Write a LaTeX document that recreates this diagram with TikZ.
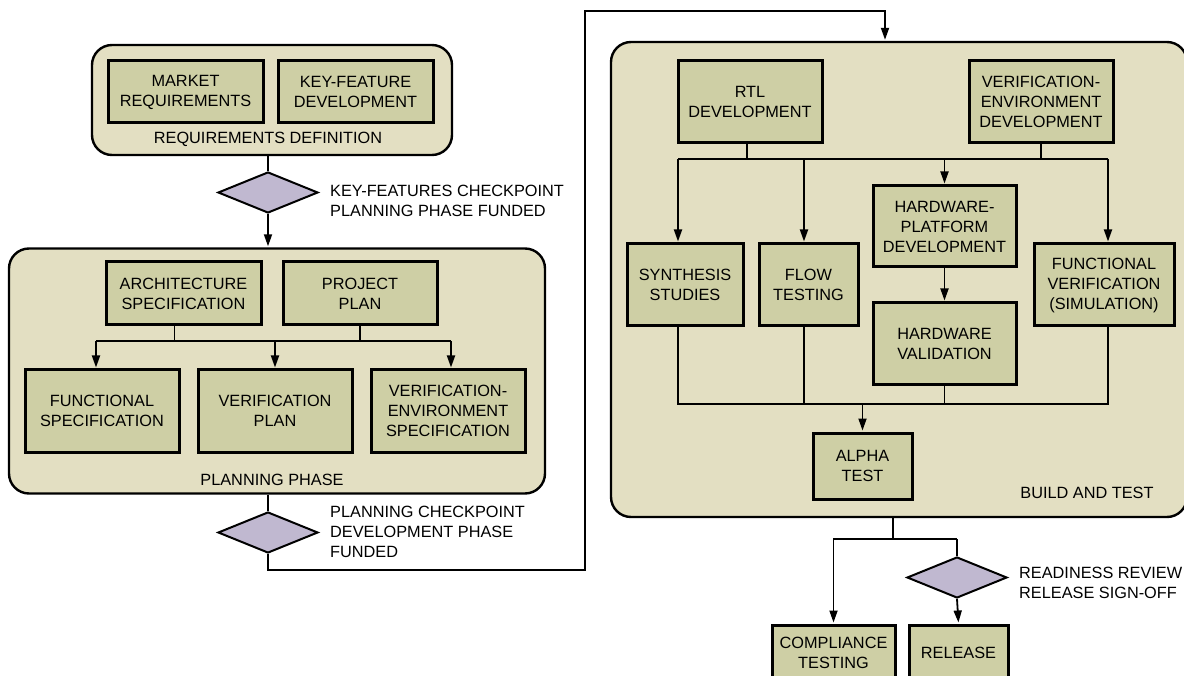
\documentclass[tikz,border=0pt]{standalone}
\usepackage{fontspec}
\setmainfont{Liberation Sans}
\usetikzlibrary{shapes.geometric,arrows.meta,calc}
\definecolor{contfill}{RGB}{227,223,194}
\definecolor{boxfill}{RGB}{206,207,165}
\definecolor{diafill}{RGB}{192,184,208}
\begin{document}
\begin{tikzpicture}[x=1pt,y=-1pt,
  every node/.style={font=\fontsize{16.3}{20}\selectfont, inner sep=0pt},
  container/.style={draw, line width=2.4pt, fill=contfill, rounded corners=20pt},
  box/.style={draw, line width=3pt, fill=boxfill, align=center},
  dia/.style={draw, diamond, line width=2pt, fill=diafill, minimum width=100pt, minimum height=41pt},
  conn/.style={line width=1.8pt},
  arr/.style={conn, -{Triangle[length=12pt,width=8pt]}, shorten >=1pt},
  lbl/.style={align=left, anchor=west}]
\useasboundingbox (0,0) rectangle (1184,676);
\fill[white] (0,0) rectangle (1184,676);

% containers
\node[container, minimum width=360pt, minimum height=110pt] (req) at (272,100) {};
\node[container, minimum width=536pt, minimum height=245pt] (plan) at (277,371) {};
\node[container, minimum width=576pt, minimum height=475pt] (build) at (899,279.5) {};

% requirements
\node[box, minimum width=155pt, minimum height=62pt] (mkt) at (185.5,92) {MARKET\\REQUIREMENTS};
\node[box, minimum width=155pt, minimum height=62pt] (kfd) at (355.5,92) {KEY-FEATURE\\DEVELOPMENT};
\node (reqlbl) at (268,139) {REQUIREMENTS DEFINITION};

% diamond 1
\node[dia] (d1) at (268,192.5) {};
\node[lbl] (d1lbl) at (330,201) {KEY-FEATURES CHECKPOINT\\PLANNING PHASE FUNDED};
\draw[conn] (d1.north |- req.south) -- (d1.north);
\draw[arr] (d1.south) -- (d1.south |- plan.north);

% planning
\node[box, minimum width=155pt, minimum height=63pt] (arch) at (183.5,293.5) {ARCHITECTURE\\SPECIFICATION};
\node[box, minimum width=154pt, minimum height=63pt] (proj) at (360,293.5) {PROJECT\\PLAN};
\node[box, minimum width=154pt, minimum height=82pt] (fs) at (102,411) {FUNCTIONAL\\SPECIFICATION};
\node[box, minimum width=154pt, minimum height=82pt] (vp) at (275,411) {VERIFICATION\\PLAN};
\node[box, minimum width=154pt, minimum height=82pt] (ves) at (448,411) {VERIFICATION-\\ENVIRONMENT\\SPECIFICATION};
\node (planlbl) at (272,480) {PLANNING PHASE};
\coordinate (pbL) at (96,341);
\coordinate (pbR) at (451,341);
\draw[conn] (pbL) -- (pbR);
\draw[conn] ([xshift=-9pt]arch.south) -- ([xshift=-9pt]arch.south |- pbL);
\draw[conn] (proj.south) -- (proj.south |- pbL);
\draw[arr] (pbL) -- (pbL |- fs.north);
\draw[arr] (vp.north |- pbL) -- (vp.north);
\draw[arr] (pbR) -- (pbR |- ves.north);

% diamond 2
\node[dia] (d2) at (268,532.5) {};
\node[lbl] (d2lbl) at (330,532) {PLANNING CHECKPOINT\\DEVELOPMENT PHASE\\FUNDED};
\draw[conn] (d2.north |- plan.south) -- (d2.north);
\coordinate (c1) at (585,570);
\coordinate (c2) at (585,11);
\draw[arr] (d2.south) |- (c1) -- (c2) -| ([xshift=-14pt]build.north);

% build and test
\node[box, minimum width=144pt, minimum height=82pt] (rtl) at (750,102) {RTL\\DEVELOPMENT};
\node[box, minimum width=144pt, minimum height=82pt] (ved) at (1041,102) {VERIFICATION-\\ENVIRONMENT\\DEVELOPMENT};
\node[box, minimum width=116pt, minimum height=82pt] (syn) at (685,285) {SYNTHESIS\\STUDIES};
\node[box, minimum width=99pt, minimum height=82pt] (flow) at (808.5,285) {FLOW\\TESTING};
\node[box, minimum width=143pt, minimum height=81pt] (hwp) at (944.5,226.5) {HARDWARE-\\PLATFORM\\DEVELOPMENT};
\node[box, minimum width=143pt, minimum height=82pt] (hwv) at (944.5,344) {HARDWARE\\VALIDATION};
\node[box, minimum width=140pt, minimum height=82pt] (fv) at (1104,285) {FUNCTIONAL\\VERIFICATION\\(SIMULATION)};
\node[box, minimum width=99pt, minimum height=66pt] (alpha) at (862.5,466) {ALPHA\\TEST};
\node (buildlbl) at (1087,493) {BUILD AND TEST};

\coordinate (bbL) at (678,159);
\coordinate (bbR) at (1108,159);
\draw[conn] (bbL) -- (bbR);
\draw[conn] ([xshift=-3pt]rtl.south) -- ([xshift=-3pt]rtl.south |- bbL);
\draw[conn] (ved.south) -- (ved.south |- bbL);
\draw[arr] (bbL) -- (bbL |- syn.north);
\draw[arr] ([xshift=-4.5pt]flow.north |- bbL) -- ([xshift=-4.5pt]flow.north);
\draw[arr] (hwp.north |- bbL) -- (hwp.north);
\draw[arr] (bbR) -- (bbR |- fv.north);
\draw[arr] (hwp.south) -- (hwv.north);

\coordinate (blL) at (678,404);
\coordinate (blR) at (1108,404);
\draw[conn] (blL |- syn.south) -- (blL) -- (blR) -- (blR |- fv.south);
\draw[conn] ([xshift=-4.5pt]flow.south) -- ([xshift=-4.5pt]flow.south |- blL);
\draw[conn] (hwv.south) -- (hwv.south |- blL);
\draw[arr] (alpha.north |- blL) -- (alpha.north);

% release
\node[dia] (d3) at (957,577.5) {};
\node[lbl] (d3lbl) at (1019,583) {READINESS REVIEW\\RELEASE SIGN-OFF};
\node[box, minimum width=123pt, minimum height=56pt] (comp) at (833.5,653) {COMPLIANCE\\TESTING};
\node[box, minimum width=99pt, minimum height=56pt] (rel) at (958.5,653) {RELEASE};
\coordinate (jn) at (893,539);
\draw[conn] ([xshift=-6pt]build.south) -- ([xshift=-6pt]build.south |- jn);
\draw[arr] (d3.north |- jn) -| (comp.north);
\draw[conn] (d3.north |- jn) -- (d3.north);
\draw[arr] (d3.south) -- (rel.north);
\end{tikzpicture}
\end{document}
